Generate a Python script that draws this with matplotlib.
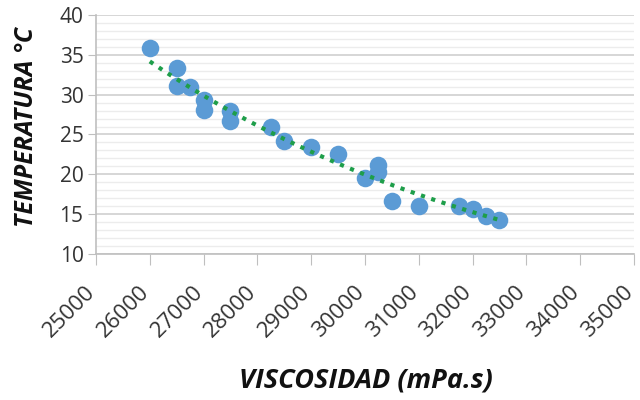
import numpy as np
import matplotlib
matplotlib.use("Agg")
import matplotlib.pyplot as plt
import matplotlib.transforms as mtransforms
from matplotlib.ticker import MultipleLocator

viscosidad = [26000, 26500, 26500, 26750, 27000, 27000, 27500, 27500, 28250, 28500,
              29000, 29500, 30000, 30250, 30250, 30500, 31000, 31750, 32000, 32250, 32500]
temperatura = [35.8, 33.3, 31.1, 30.9, 29.3, 28.1, 28.0, 26.7, 26.0, 24.2,
               23.4, 22.5, 19.6, 21.2, 20.3, 16.7, 16.0, 16.0, 15.6, 14.8, 14.3]
xticks = list(range(25000, 35001, 1000))
yticks = list(range(10, 41, 5))

plt.rcParams['font.family'] = ['Open Sans', 'DejaVu Sans']
fig = plt.figure(figsize=(6.4, 4.0), dpi=100)
ax = fig.add_axes([0.15, 0.365, 0.8406, 0.5975])

x = np.array(viscosidad, float)
y = np.array(temperatura, float)
ax.scatter(x, y, s=160, color='#5B9BD5', zorder=3, linewidths=0)

coef = np.polyfit(x, np.log(y), 1)
xf = np.linspace(x.min(), x.max(), 100)
ax.plot(xf, np.exp(np.polyval(coef, xf)), color='#1E9E4A', lw=3,
        linestyle=(0, (1, 1.6)), zorder=4)

ax.set_xlim(25000, 35000)
ax.set_ylim(10, 40)
ax.set_xticks(xticks)
ax.set_yticks(yticks)
ax.yaxis.set_minor_locator(MultipleLocator(1))
ax.grid(True, which='major', axis='y', color='#d0d0d0', lw=1.2)
ax.grid(True, which='minor', axis='y', color='#ececec', lw=1)
ax.set_axisbelow(True)
for s in ['top', 'right']:
    ax.spines[s].set_visible(False)
for s in ['left', 'bottom']:
    ax.spines[s].set_color('#bfbfbf')
    ax.spines[s].set_linewidth(1.2)
ax.tick_params(axis='y', which='major', direction='out', length=6, pad=3,
               color='#bfbfbf', labelsize=15, labelcolor='#333333')
ax.tick_params(axis='x', which='major', direction='out', length=8, pad=17,
               color='#bfbfbf', labelsize=16, labelcolor='#333333')
ax.tick_params(axis='y', which='minor', length=0)
offset = mtransforms.ScaledTranslation(-4 / 100, 0, fig.dpi_scale_trans)
for lab in ax.get_xticklabels():
    lab.set_rotation(45)
    lab.set_ha('right')
    lab.set_va('center')
    lab.set_rotation_mode('anchor')
    lab.set_transform(lab.get_transform() + offset)

fig.text(366 / 640, 1 - 380 / 400, 'VISCOSIDAD (mPa.s)', fontsize=19.5, fontweight='bold',
         style='italic', color='#111111', ha='center', va='center')
fig.text(27 / 640, 1 - 127 / 400, 'TEMPERATURA °C', fontsize=18, fontweight='bold',
         style='italic', color='#111111', ha='center', va='center', rotation=90)

fig.savefig('out.png', dpi=100)
